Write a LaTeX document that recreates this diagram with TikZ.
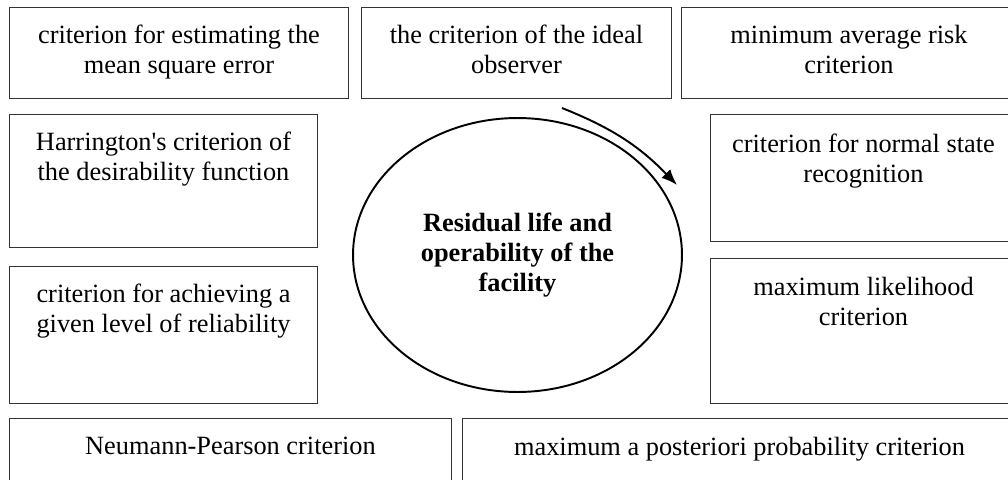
\documentclass[tikz,border=0pt]{standalone}
\usepackage{fontspec}
\setmainfont{Liberation Serif}
\usetikzlibrary{arrows.meta,shapes.geometric}

\begin{document}
\begin{tikzpicture}[x=0.02cm,y=0.02cm,
  critbox/.style={draw=black!80, line width=0.6pt, anchor=north west, inner sep=0pt},
  crittext/.style={anchor=north, inner sep=0pt, align=center, font=\fontsize{15}{17}\selectfont},
  core/.style={draw, ellipse, line width=1.1pt, minimum width=6.58cm, minimum height=5.48cm,
    align=center, font=\fontsize{15}{17}\selectfont\bfseries},
  cyclearrow/.style={line width=1.1pt, -{Latex[length=9pt,width=7pt]}}]
\clip (0,0) rectangle (1008,-480);
% top row
\node[critbox, minimum width=6.78cm, minimum height=1.82cm] (mse) at (9,-7) {};
\node[critbox, minimum width=6.20cm, minimum height=1.82cm] (ideal) at (361,-7) {};
\node[critbox, minimum width=6.70cm, minimum height=1.82cm] (risk) at (681,-7) {};
% left column
\node[critbox, minimum width=6.16cm, minimum height=2.66cm] (harr) at (9,-114) {};
\node[critbox, minimum width=6.16cm, minimum height=2.74cm] (reliab) at (9,-266) {};
% right column
\node[critbox, minimum width=6.12cm, minimum height=2.54cm] (normal) at (710,-114) {};
\node[critbox, minimum width=6.12cm, minimum height=2.90cm] (likeli) at (710,-258) {};
% bottom row
\node[critbox, minimum width=8.84cm, minimum height=1.44cm] (neyman) at (9,-418) {};
\node[critbox, minimum width=11.08cm, minimum height=1.44cm] (map) at (462,-418) {};

\node[crittext] (mse-t) at ([yshift=-0.36cm]mse.north) {criterion for estimating the\\mean square error};
\node[crittext] (ideal-t) at ([yshift=-0.36cm]ideal.north) {the criterion of the ideal\\observer};
\node[crittext] (risk-t) at ([yshift=-0.36cm]risk.north) {minimum average risk\\criterion};
\node[crittext] (harr-t) at ([yshift=-0.36cm]harr.north) {Harrington\textquotesingle s criterion of\\the desirability function};
\node[crittext] (reliab-t) at ([yshift=-0.36cm]reliab.north) {criterion for achieving a\\given level of reliability};
\node[crittext] (normal-t) at ([yshift=-0.40cm]normal.north) {criterion for normal state\\recognition};
\node[crittext] (likeli-t) at ([yshift=-0.38cm]likeli.north) {maximum likelihood\\criterion};
\node[crittext] (neyman-t) at ([yshift=-0.38cm]neyman.north) {Neumann-Pearson criterion};
\node[crittext] (map-t) at ([yshift=-0.38cm]map.north) {maximum a posteriori probability criterion};

% centre
\node[core] (core) at (517.5,-255) {Residual life and\\operability of the\\facility};
\coordinate (turn-a) at (562,-108);
\coordinate (turn-b) at (677,-185);
\draw[cyclearrow] (turn-a) to[bend left=12] (turn-b);
\end{tikzpicture}
\end{document}
